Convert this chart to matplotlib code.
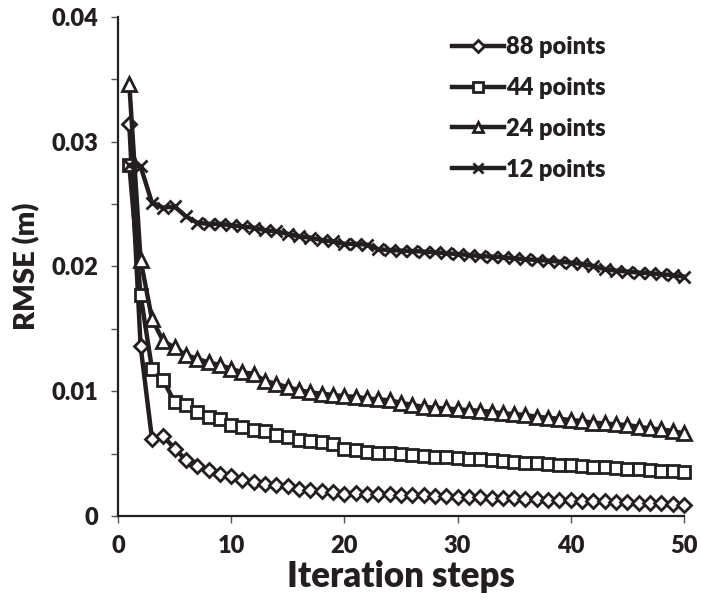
import numpy as np
import matplotlib.pyplot as plt

plt.rcParams['font.family'] = ['Lato', 'DejaVu Sans']
plt.rcParams['font.weight'] = 'heavy'

steps = list(range(1, 51))

# RMSE per iteration for each number of control points
rmse_88 = [0.0314, 0.0136, 0.0062, 0.0064, 0.0054, 0.0045, 0.0040, 0.0037, 0.0034, 0.0032,
           0.0029, 0.0027, 0.0026, 0.0025, 0.0024, 0.0022, 0.0021, 0.0020, 0.0019, 0.0018,
           0.00182, 0.00180, 0.00176, 0.00174, 0.00171, 0.00168, 0.00166, 0.00163, 0.00160, 0.00155,
           0.00152, 0.00150, 0.00147, 0.00144, 0.00142, 0.00139, 0.00134, 0.00131, 0.00128, 0.00126,
           0.00123, 0.00120, 0.00118, 0.00115, 0.00112, 0.00107, 0.00104, 0.00102, 0.00096, 0.00088]

rmse_44 = [0.0281, 0.0177, 0.0118, 0.0109, 0.0091, 0.0089, 0.0083, 0.0079, 0.0078, 0.0073,
           0.0071, 0.0069, 0.0068, 0.0065, 0.0063, 0.0061, 0.0060, 0.0059, 0.0058, 0.0054,
           0.00529, 0.00515, 0.00507, 0.00502, 0.00497, 0.00489, 0.00481, 0.00475, 0.00470, 0.00462,
           0.00459, 0.00454, 0.00449, 0.00443, 0.00435, 0.00427, 0.00422, 0.00417, 0.00411, 0.00406,
           0.00401, 0.00395, 0.00390, 0.00385, 0.00379, 0.00374, 0.00369, 0.00363, 0.00358, 0.00353]

rmse_24 = [0.0346, 0.0205, 0.0158, 0.0140, 0.0135, 0.0129, 0.0126, 0.0123, 0.0121, 0.0118,
           0.0115, 0.0114, 0.0108, 0.0106, 0.0103, 0.0101, 0.0099, 0.0098, 0.0097, 0.0096,
           0.00955, 0.00942, 0.00934, 0.00928, 0.00907, 0.00889, 0.00875, 0.00867, 0.00862, 0.00854,
           0.00849, 0.00843, 0.00835, 0.00822, 0.00817, 0.00809, 0.00795, 0.00787, 0.00779, 0.00769,
           0.00761, 0.00747, 0.00742, 0.00734, 0.00729, 0.00715, 0.00702, 0.00694, 0.00681, 0.00662]

rmse_12 = [0.0281, 0.0280, 0.0251, 0.0247, 0.0248, 0.0240, 0.0235, 0.0234, 0.0234, 0.0233,
           0.0232, 0.0231, 0.0229, 0.0228, 0.0226, 0.0224, 0.0223, 0.0221, 0.0220, 0.0218,
           0.02180, 0.02174, 0.02137, 0.02131, 0.02126, 0.02123, 0.02118, 0.02113, 0.02105, 0.02099,
           0.02091, 0.02083, 0.02078, 0.02073, 0.02065, 0.02057, 0.02051, 0.02046, 0.02038, 0.02030,
           0.02019, 0.02003, 0.01977, 0.01966, 0.01958, 0.01950, 0.01945, 0.01937, 0.01930, 0.01918]

series = [
    ('88 points', rmse_88, 'D', 7.5),
    ('44 points', rmse_44, 's', 8.5),
    ('24 points', rmse_24, '^', 9.5),
    ('12 points', rmse_12, 'x', 9),
]

ink = '#231f20'

fig = plt.figure(figsize=(7.01, 6.10), dpi=100)
ax = fig.add_axes([0.1683, 0.1541, 0.8074, 0.8185])

for label, vals, mk, ms in series:
    ax.plot(steps, vals, color=ink, lw=3.2, marker=mk, markersize=ms,
            markerfacecolor='white', markeredgecolor=ink, markeredgewidth=2,
            label=label, clip_on=False)

ax.set_xlim(0, 50)
ax.set_ylim(0, 0.04)
ax.set_xticks(np.arange(0, 51, 10))
ax.set_yticks(np.arange(0, 0.0401, 0.005))
ylabels = []
for v in np.arange(0, 0.0401, 0.005):
    if abs(v) < 1e-9:
        ylabels.append('0')
    elif round(v * 1000) % 10 == 0:
        ylabels.append('%.2f' % v)
    else:
        ylabels.append('')
ax.set_yticklabels(ylabels)

ax.spines['top'].set_visible(False)
ax.spines['right'].set_visible(False)
for s in ['left', 'bottom']:
    ax.spines[s].set_linewidth(1.6)
    ax.spines[s].set_color(ink)
ax.tick_params(axis='both', direction='out', length=5, width=1, color='#555555',
               labelsize=17, labelcolor=ink, pad=9)

ax.set_xlabel('Iteration steps', fontsize=25, fontweight='heavy', color=ink, labelpad=2)
ax.set_ylabel('RMSE (m)', fontsize=21, fontweight='heavy', color=ink, labelpad=8)

leg = ax.legend(loc='upper right', bbox_to_anchor=(0.9, 1.004), frameon=False,
                fontsize=17, handlelength=2.2, handletextpad=0.1, labelspacing=0.8,
                markerscale=0.8)
for t in leg.get_texts():
    t.set_color(ink)

fig.savefig('out.png', dpi=100)
